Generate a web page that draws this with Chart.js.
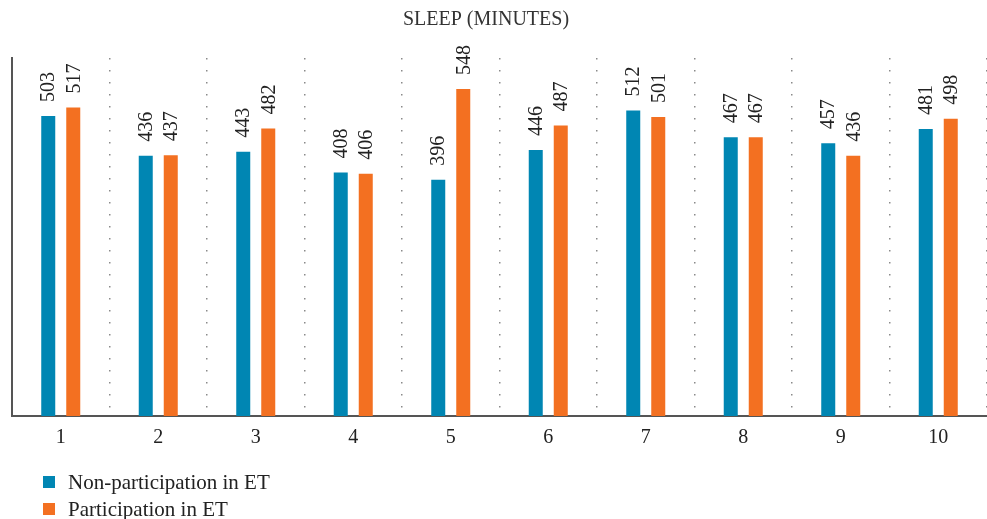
<!DOCTYPE html>
<html>
<head>
<meta charset="utf-8">
<script src="https://cdn.jsdelivr.net/npm/chart.js@4/dist/chart.umd.min.js"></script>
<style>
  html, body { margin: 0; padding: 0; background: #fff; }
  #wrap { width: 987px; height: 519px; position: relative; }
</style>
</head>
<body>
<div id="wrap"><canvas id="c"></canvas></div>
<script>
// Sleep duration (minutes) per subject, with and without ET participation
const categories = ['1', '2', '3', '4', '5', '6', '7', '8', '9', '10'];
const nonParticipation = [503, 436, 443, 408, 396, 446, 512, 467, 457, 481];
const participation = [517, 437, 482, 406, 548, 487, 501, 467, 436, 498];
const seriesNames = ['Non-participation in ET', 'Participation in ET'];
const seriesColors = ['#0086B3', '#F37021'];
const chartTitle = 'SLEEP (MINUTES)';

const SERIF = '"Liberation Serif", "DejaVu Serif", serif';
const TEXT = '#222';

// Title centred over the page
const pageTitle = {
  id: 'pageTitle',
  afterDraw(chart) {
    const ctx = chart.ctx;
    ctx.save();
    ctx.font = '20px ' + SERIF;
    ctx.fillStyle = '#333';
    ctx.textAlign = 'center';
    ctx.textBaseline = 'middle';
    ctx.fillText(chartTitle, 486, 20);
    ctx.restore();
  }
};

// Rotated value labels above each bar
const valueLabels = {
  id: 'valueLabels',
  afterDatasetsDraw(chart) {
    const ctx = chart.ctx;
    ctx.save();
    ctx.font = '20px ' + SERIF;
    ctx.fillStyle = TEXT;
    ctx.textAlign = 'left';
    ctx.textBaseline = 'middle';
    chart.data.datasets.forEach((ds, i) => {
      chart.getDatasetMeta(i).data.forEach((bar, j) => {
        ctx.save();
        ctx.translate(bar.x, bar.y - 14);
        ctx.rotate(-Math.PI / 2);
        ctx.fillText(String(ds.data[j]), 0, 1);
        ctx.restore();
      });
    });
    ctx.restore();
  }
};

// Legend stacked one entry per line, bottom left
const stackedLegend = {
  id: 'stackedLegend',
  afterDraw(chart) {
    const ctx = chart.ctx;
    ctx.save();
    ctx.font = '21px ' + SERIF;
    ctx.textAlign = 'left';
    ctx.textBaseline = 'middle';
    chart.data.datasets.forEach((ds, i) => {
      const cy = 482 + i * 27;
      ctx.fillStyle = ds.backgroundColor;
      ctx.fillRect(43, cy - 6, 12, 12);
      ctx.fillStyle = TEXT;
      ctx.fillText(ds.label, 68, cy + 1);
    });
    ctx.restore();
  }
};

new Chart(document.getElementById('c'), {
  type: 'bar',
  data: {
    labels: categories,
    datasets: [
      { label: seriesNames[0], data: nonParticipation, backgroundColor: seriesColors[0] },
      { label: seriesNames[1], data: participation, backgroundColor: seriesColors[1] }
    ]
  },
  options: {
    responsive: true,
    maintainAspectRatio: false,
    animation: false,
    categoryPercentage: 0.513,
    barPercentage: 0.56,
    layout: { padding: { left: 12, right: 0, top: 58, bottom: 59 } },
    plugins: {
      legend: { display: false },
      tooltip: { enabled: false },
      title: { display: false }
    },
    scales: {
      x: {
        offset: true,
        grid: {
          display: true,
          offset: true,
          drawTicks: false,
          color: '#8a8a8a',
          lineWidth: 1.5
        },
        border: { display: true, color: '#555', width: 2, dash: [1.5, 10.5] },
        ticks: {
          color: TEXT,
          padding: 10,
          font: { family: SERIF, size: 20 }
        }
      },
      y: {
        min: 0,
        max: 600,
        grid: { display: false, drawTicks: false },
        border: { display: true, color: '#555', width: 2 },
        ticks: { display: false }
      }
    }
  },
  plugins: [pageTitle, valueLabels, stackedLegend]
});
</script>
</body>
</html>
